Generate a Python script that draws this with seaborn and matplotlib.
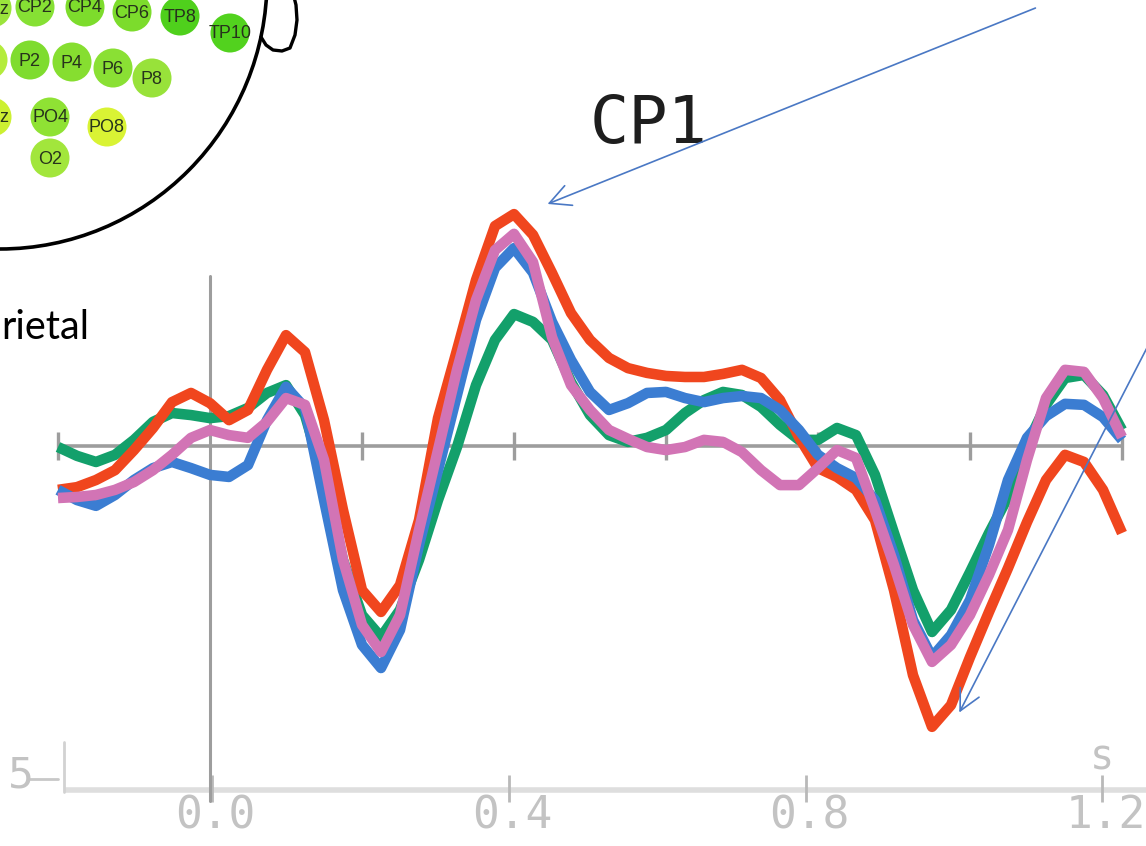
import numpy as np
import pandas as pd
import matplotlib
matplotlib.use("Agg")
import matplotlib.pyplot as plt
import seaborn as sns
from matplotlib.patches import Circle, Ellipse, FancyArrowPatch

# ---------------------------------------------------------------- data
# ERP at channel CP1, four conditions, sampled every 25 ms (-0.2 .. 1.2 s), in µV
time_s = np.linspace(-0.2, 1.2, 57)

cond_names = ["Cond A", "Cond B", "Cond C", "Cond D"]
cond_colors = ["#13a06b", "#f0461e", "#3b7dd2", "#d274b5"]

amp_a = [-0.03, -0.29, -0.47, -0.26, 0.18, 0.71, 0.97, 0.91, 0.82, 0.88,
         1.12, 1.56, 1.79, 0.91, -1.00, -3.35, -4.97, -5.62, -4.82, -3.35,
         -1.59, -0.03, 1.79, 3.12, 3.88, 3.65, 3.12, 1.88, 0.91, 0.32,
         0.12, 0.24, 0.47, 0.97, 1.35, 1.59, 1.50, 1.15, 0.62, 0.18,
         0.18, 0.53, 0.32, -0.85, -2.56, -4.24, -5.47, -4.82, -3.71, -2.56,
         -1.50, 0.03, 1.21, 2.00, 2.09, 1.50, 0.47]
amp_b = [-1.29, -1.21, -1.00, -0.71, -0.12, 0.53, 1.29, 1.56, 1.26, 0.76,
         1.06, 2.24, 3.26, 2.76, 0.76, -1.88, -4.24, -4.88, -4.09, -2.18,
         0.82, 2.82, 4.88, 6.47, 6.82, 6.21, 5.09, 3.91, 3.12, 2.59,
         2.29, 2.15, 2.06, 2.03, 2.03, 2.12, 2.24, 2.00, 1.35, 0.26,
         -0.65, -0.91, -1.29, -2.18, -4.24, -6.74, -8.26, -7.62, -6.21, -4.88,
         -3.59, -2.24, -1.00, -0.26, -0.47, -1.29, -2.56]
amp_c = [-1.29, -1.59, -1.76, -1.44, -1.00, -0.65, -0.47, -0.65, -0.85, -0.91,
         -0.56, 0.76, 1.74, 1.12, -1.59, -4.24, -5.85, -6.53, -5.41, -2.91,
         -0.71, 1.50, 3.71, 5.24, 5.82, 5.10, 3.65, 2.53, 1.59, 1.06,
         1.26, 1.56, 1.59, 1.41, 1.29, 1.41, 1.47, 1.41, 1.06, 0.47,
         -0.26, -0.65, -0.94, -1.59, -3.21, -5.12, -6.21, -5.56, -4.53, -2.91,
         -1.00, 0.24, 0.88, 1.24, 1.21, 0.85, 0.18]
amp_d = [-1.53, -1.50, -1.44, -1.29, -1.06, -0.71, -0.26, 0.24, 0.47, 0.32,
         0.24, 0.71, 1.41, 1.21, -0.41, -3.35, -5.26, -6.06, -4.97, -2.47,
         -0.12, 2.24, 4.29, 5.76, 6.24, 5.41, 3.20, 1.79, 1.06, 0.47,
         0.21, -0.03, -0.12, -0.03, 0.18, 0.12, -0.18, -0.71, -1.15, -1.15,
         -0.65, -0.12, -0.35, -1.88, -3.50, -5.26, -6.35, -5.85, -4.97, -3.79,
         -2.47, -0.41, 1.41, 2.24, 2.18, 1.41, 0.26]

upper_ticks = [-0.2, 0.2, 0.4, 0.6, 0.8, 1.0, 1.2]
lower_ticks = [0.0, 0.4, 0.8, 1.2]
lower_tick_labels = ["0.0", "0.4", "0.8", "1.2"]

# electrodes of the right posterior scalp (label, colour)
electrodes = [
    ("CPz", "#9be43c"), ("CP2", "#86e034"), ("CP4", "#7ddc2c"), ("CP6", "#7cdc2c"),
    ("TP8", "#4fd01c"), ("TP10", "#52d21e"), ("P1", "#b4ec3c"), ("P2", "#7fdc2e"),
    ("P4", "#86de30"), ("P6", "#8ae034"), ("P8", "#98e23a"), ("POz", "#ccf032"),
    ("PO4", "#8fe234"), ("PO8", "#d9f334"), ("O2", "#a2e63c"),
]
# head-map layout of those electrodes (canvas pixels); P1 sits beyond the edge
electrode_xy = {
    "CPz": (-8, 8), "CP2": (35, 7), "CP4": (85, 7), "CP6": (132, 12),
    "TP8": (180, 16), "TP10": (230, 33), "P1": (-12, 60), "P2": (30, 60),
    "P4": (72, 62), "P6": (113, 68), "P8": (152, 78), "POz": (-8, 117),
    "PO4": (50, 117), "PO8": (107, 127), "O2": (50, 158),
}
hidden_labels = {"P1"}

# ---------------------------------------------------------------- figure
sns.set_style("white")
plt.rcParams["font.family"] = ["DejaVu Sans"]

W, H = 1146, 846
fig = plt.figure(figsize=(W / 100, H / 100), dpi=100)
fig.patch.set_facecolor("white")

# ERP panel: 760 px per second, 34 px per µV, zero at (210, 446)
px_per_s, px_per_uv, x0, y0 = 760.0, 34.0, 210.0, 446.0
ax = fig.add_axes([0, 0, 1, 1], zorder=2)
ax.set_xlim(-x0 / px_per_s, (W - x0) / px_per_s)
ax.set_ylim(-(H - y0) / px_per_uv, y0 / px_per_uv)
ax.patch.set_alpha(0)

axis_grey = "#9d9d9d"
ax.plot([time_s[0], time_s[-1]], [0, 0], color=axis_grey, lw=2.6, zorder=1,
        solid_capstyle="butt")
ax.vlines(upper_ticks, -0.4, 0.4, color=axis_grey, lw=2.4, zorder=1)
ax.plot([0, 0], [5.0, -10.45], color=axis_grey, lw=2.2, zorder=1)

df = pd.DataFrame({
    "time": np.tile(time_s, 4),
    "amp": np.concatenate([amp_a, amp_b, amp_c, amp_d]),
    "cond": np.repeat(cond_names, len(time_s)),
})
sns.lineplot(data=df, x="time", y="amp", hue="cond", hue_order=cond_names,
             palette=cond_colors, linewidth=7.6, legend=False, ax=ax,
             sort=False, estimator=None, solid_joinstyle="round",
             solid_capstyle="butt", zorder=3)
ax.axis("off")

# Lower panel time axis (partly visible): 742 px per second, zero at x = 212
low = fig.add_axes([0, 0, 1, 1], zorder=1)
low.set_xlim(-212 / 742, (W - 212) / 742)
low.set_ylim(H, 0)
low.axis("off")
low.patch.set_alpha(0)
low.plot([-0.2, 1.3], [790, 790], color="#dedede", lw=4, solid_capstyle="butt")
low.vlines(lower_ticks, 775, 802, color="#b9b9b9", lw=2.0)
low.plot([-0.2, -0.2], [742, 792], color="#d2d2d2", lw=2.0)
low.plot([-0.245, -0.208], [779, 779], color="#c8c8c8", lw=2.0)
for t, lab in zip(lower_ticks, lower_tick_labels):
    low.text(t + 0.005, 816, lab, ha="center", va="center", color="#c3c3c3",
             fontsize=32, family="DejaVu Sans Mono")
low.text(-0.258, 776, "5", ha="center", va="center", color="#c3c3c3",
         fontsize=31, family="DejaVu Sans Mono")
low.text(1.2, 758, "s", ha="center", va="center", color="#c3c3c3",
         fontsize=29, family="DejaVu Sans Mono")

# Decorations in canvas pixels: head map, labels and arrows
deco = fig.add_axes([0, 0, 1, 1], zorder=5)
deco.set_xlim(0, W)
deco.set_ylim(H, 0)
deco.axis("off")
deco.patch.set_alpha(0)

for name, col in electrodes:
    ex, ey = electrode_xy[name]
    deco.add_patch(Circle((ex, ey), 19.5, facecolor=col, edgecolor="none", zorder=2))
    if name not in hidden_labels:
        deco.text(ex, ey + 1, name, ha="center", va="center", fontsize=13,
                  color="#27331c", family="Liberation Sans", zorder=3)

deco.add_patch(Ellipse((0, -20), 2 * 267, 2 * 269, fill=False,
                       edgecolor="black", lw=2.6, zorder=4))
ear_x = [261, 266, 273, 282, 290, 295, 297, 296, 294]
ear_y = [37, 45, 50, 51, 48, 35, 20, 5, -3]
deco.plot(ear_x, ear_y, color="black", lw=2.4, solid_joinstyle="round", zorder=4)

deco.text(1, 339, "rietal", ha="left", va="baseline", fontsize=28.5,
          family="Lato", color="black")
deco.text(590, 143, "CP1", ha="left", va="baseline", fontsize=47,
          family="DejaVu Sans Mono", color="#1e1e1e")

arrow_kw = dict(arrowstyle="->,head_length=0.75,head_width=0.38",
                mutation_scale=20, color="#4a78c4", lw=1.2, zorder=6)
deco.add_patch(FancyArrowPatch((1038, 7), (545, 205), **arrow_kw))
deco.add_patch(FancyArrowPatch((1152, 338), (958, 715), **arrow_kw))

fig.savefig("out.png", dpi=100, facecolor="white")
